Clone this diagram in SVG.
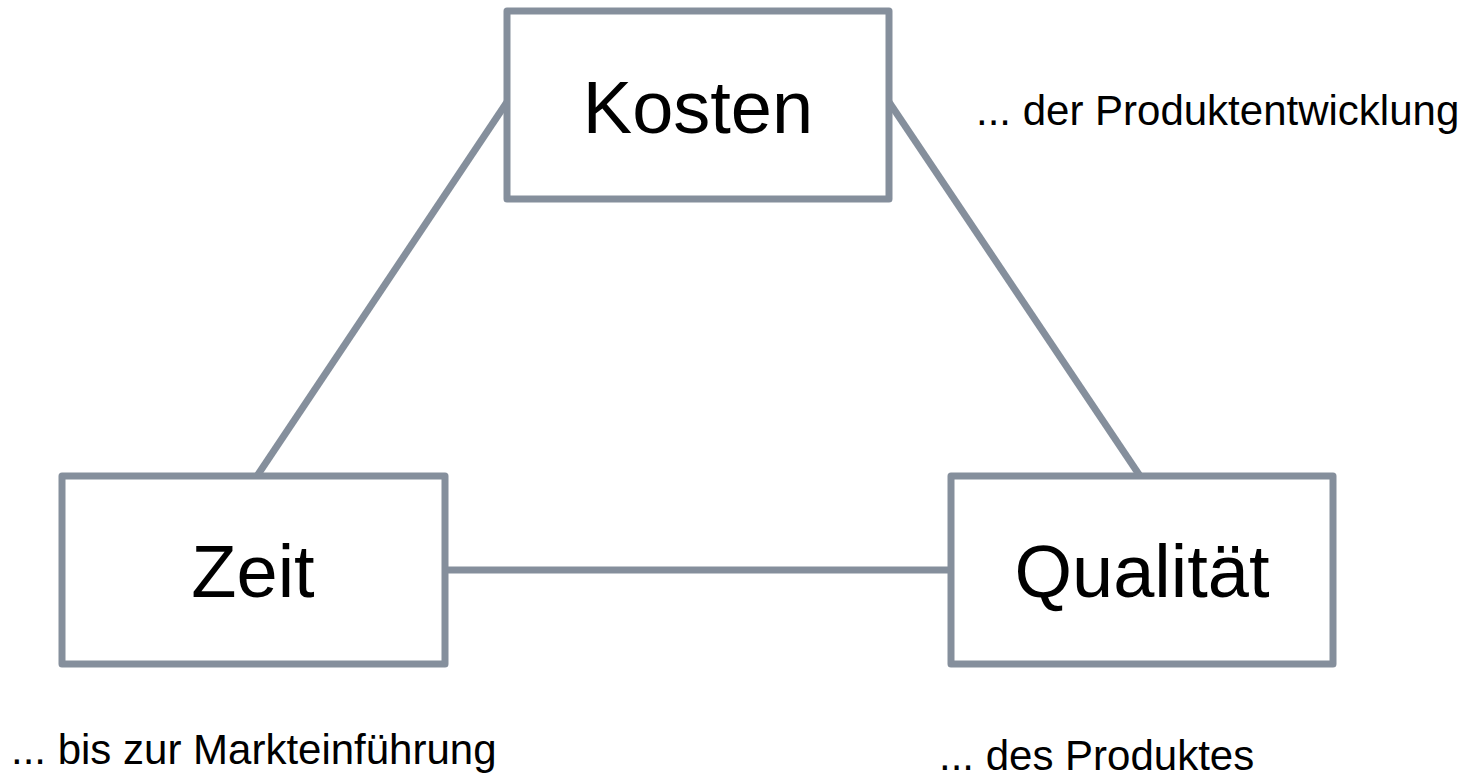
<svg xmlns="http://www.w3.org/2000/svg" width="1474" height="777" viewBox="0 0 1474 777">
<style>
.box{fill:#fff;stroke:#858f9c;stroke-width:7;stroke-linejoin:round}
.conn{stroke:#858f9c;stroke-width:7;fill:none}
.big{font-family:"Liberation Sans",Arial,sans-serif;font-size:74px;fill:#000;text-anchor:middle}
.small{font-family:"Liberation Sans",Arial,sans-serif;font-size:42px;fill:#000}
</style>
<rect width="1474" height="777" fill="#fff"/>
<g id="connectors">
<line class="conn" x1="507" y1="102" x2="257" y2="476"/>
<line class="conn" x1="889" y1="102" x2="1140" y2="476"/>
<line class="conn" x1="445" y1="570" x2="951" y2="570"/>
</g>
<g id="kosten">
<rect class="box" x="507" y="11" width="382" height="188"/>
<text class="big" x="698" y="133">Kosten</text>
</g>
<g id="zeit">
<rect class="box" x="62" y="476" width="383" height="188"/>
<text class="big" x="253" y="597">Zeit</text>
</g>
<g id="qualitaet">
<rect class="box" x="951" y="476" width="382" height="188"/>
<text class="big" x="1142" y="597">Qualität</text>
</g>
<g id="labels">
<text class="small" x="976" y="125">... der Produktentwicklung</text>
<text class="small" x="11" y="764">... bis zur Markteinführung</text>
<text class="small" x="939" y="770">... des Produktes</text>
</g>
</svg>
